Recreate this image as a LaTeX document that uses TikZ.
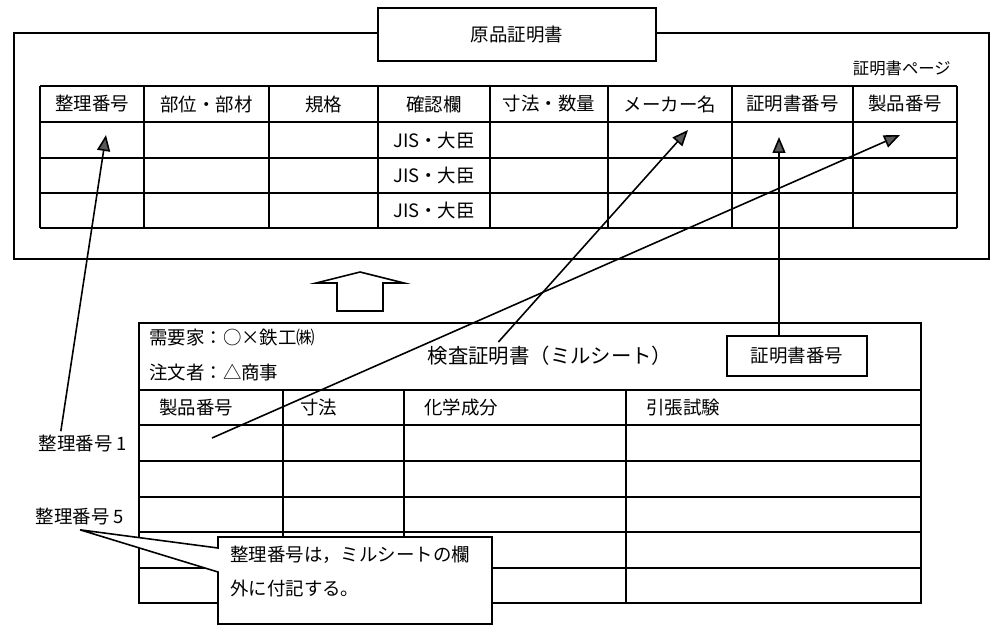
\documentclass[tikz,border=0pt]{standalone}
\usepackage{fontspec}
\setmainfont{Noto Sans CJK JP}
\usetikzlibrary{arrows.meta,positioning}

\begin{document}
\begin{tikzpicture}[x=0.02cm, y=-0.02cm, line width=0.9pt,
        main/.style = {draw, fill=white, font=\fontsize{10.5}{12}\selectfont},
        txt/.style = {inner sep=2pt, font=\fontsize{10.5}{12}\selectfont},
        arr/.style = {-{Triangle[length=0.32cm, width=0.26cm, fill=black!65]}}]
        \useasboundingbox (0,0) rectangle (1000,635);

        % upper frame and table
        \draw (14,33) rectangle (989,259);
        \node[main, minimum width=5.56cm, minimum height=1.06cm] (t) at (517,34.5) {原品証明書};
        \node[txt, anchor=east, font=\fontsize{9.3}{11}\selectfont] (pg) at (955,68) {証明書ページ};
        \foreach \x in {40,144,269,378,490,608,732,853,957}
            \draw (\x,86) -- (\x,228);
        \foreach \y in {86,122,158,193,228}
            \draw (40,\y) -- (957,\y);
        \foreach \x/\t in {92/整理番号, 206.5/部位・部材, 323.5/規格, 434/確認欄,
                549/寸法・数量, 670/メーカー名, 792.5/証明書番号, 905/製品番号}
            \node[txt] at (\x,104) {\t};
        \foreach \y in {140,175.5,210.5}
            \node[txt] at (434,\y) {JIS・大臣};

        % hollow arrow
        \draw (337,311) -- (337,283) -- (316,283) -- (360,272) -- (404,283) -- (383,283) -- (383,311) -- cycle;

        % mill sheet
        \draw (139,323) rectangle (921,603);
        \foreach \y in {390,425,461,497,532,568}
            \draw (139,\y) -- (921,\y);
        \foreach \x in {283,404,626}
            \draw (\x,390) -- (\x,603);
        \node[txt, anchor=west] (c1) at (145,338) {需要家：○×鉄工㈱};
        \node[txt, anchor=west] (c2) at (145,372) {注文者：△商事};
        \node[txt, font=\fontsize{11.6}{13}\selectfont] (ms) at (550,356) {検査証明書（ミルシート）};
        \node[main, minimum width=2.8cm, minimum height=0.8cm] (cn) at (797,356) {証明書番号};
        \foreach \x/\t in {155/製品番号, 296/寸法, 420/化学成分, 642/引張試験}
            \node[txt, anchor=west] at (\x,408) {\t};

        % labels
        \node[txt] (n1) at (83,444) {整理番号 1};
        \node[txt] (n5) at (80,517) {整理番号 5};

        % arrows
        \coordinate (a1) at (106,135);
        \coordinate (a2) at (688,130);
        \coordinate (a3) at (900,135);
        \coordinate (a4) at (779,137);
        \coordinate (s3) at (212,438);
        \draw[arr] (n1.150) -- (a1);
        \draw[arr] ([xshift=1.5cm]ms.north west) -- (a2);
        \draw[arr] (s3) -- (a3);
        \draw[arr] ([xshift=-0.36cm]cn.north) -- (a4);

        % callout
        \draw[fill=white] (218,537) -- (492,537) -- (492,624) -- (218,624) -- (218,572)
            -- (n5.south) -- (218,548) -- cycle;
        \node[txt, anchor=north west, align=left, font=\fontsize{10.5}{19}\selectfont] (note) at (226,542)
            {整理番号は，ミルシートの欄\\外に付記する。};
\end{tikzpicture}
\end{document}
